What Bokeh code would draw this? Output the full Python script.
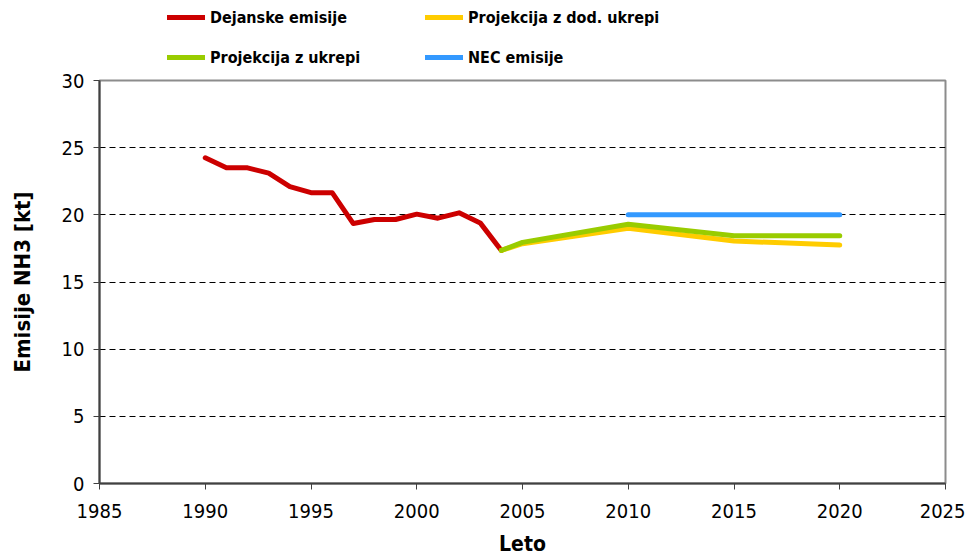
from bokeh.plotting import figure
from bokeh.models import Legend, LegendItem, FixedTicker, Range1d
from bokeh.layouts import column
from bokeh.embed import file_html
from bokeh.resources import INLINE

# Data
years_actual = [1990, 1991, 1992, 1993, 1994, 1995, 1996, 1997, 1998, 1999,
                2000, 2001, 2002, 2003, 2004]
actual = [24.25, 23.5, 23.5, 23.1, 22.1, 21.65, 21.65, 19.35, 19.65, 19.65,
          20.05, 19.75, 20.15, 19.4, 17.35]

years_proj = [2004, 2005, 2010, 2015, 2020]
proj_add = [17.35, 17.85, 19.0, 18.05, 17.75]     # Projekcija z dod. ukrepi
proj_wm = [17.35, 17.95, 19.3, 18.45, 18.45]      # Projekcija z ukrepi

years_nec = [2010, 2015, 2020]
nec = [20.0, 20.0, 20.0]

x_ticks = [1985, 1990, 1995, 2000, 2005, 2010, 2015, 2020, 2025]
y_ticks = [0, 5, 10, 15, 20, 25, 30]
grid_ticks = [5, 10, 15, 20, 25]

labels = ["Dejanske emisije", "Projekcija z dod. ukrepi",
          "Projekcija z ukrepi", "NEC emisije"]
colors = ["#CC0000", "#FFCC00", "#99CC00", "#3399FF"]

FONT = "DejaVu Sans Condensed"
NAN = float("nan")

# ---------------- main chart ----------------
p = figure(width=965, height=490, output_backend="svg", toolbar_location=None,
           x_range=Range1d(1985, 2025), y_range=Range1d(0, 30),
           min_border_left=99, min_border_right=20, min_border_top=12,
           min_border_bottom=75)

line_kw = dict(line_width=5, line_cap="round", line_join="round")
p.line(years_actual, actual, line_color=colors[0], **line_kw)
p.line(years_proj, proj_add, line_color=colors[1], **line_kw)
p.line(years_proj, proj_wm, line_color=colors[2], **line_kw)
p.line(years_nec, nec, line_color=colors[3], **line_kw)

for ax in (p.xaxis[0], p.yaxis[0]):
    ax.axis_line_color = "#404040"
    ax.axis_line_width = 2
    ax.major_tick_line_color = "#404040"
    ax.major_tick_line_width = 1
    ax.major_tick_out = 6
    ax.major_tick_in = 0
    ax.minor_tick_line_color = None
    ax.major_label_text_font = FONT
    ax.major_label_text_font_size = "20px"
    ax.major_label_text_color = "black"
    ax.axis_label_text_font = FONT
    ax.axis_label_text_font_style = "bold"
    ax.axis_label_text_color = "black"

p.xaxis.axis_label_text_font_size = "21px"
p.yaxis.axis_label_text_font_size = "22px"
p.xaxis.ticker = FixedTicker(ticks=x_ticks)
p.yaxis.ticker = FixedTicker(ticks=y_ticks)
p.xaxis.axis_label = "Leto"
p.yaxis.axis_label = "Emisije NH3 [kt]"
p.xaxis.major_label_standoff = 14
p.yaxis.major_label_standoff = 9
p.xaxis.axis_label_standoff = 11
p.yaxis.axis_label_standoff = 24

p.xgrid.grid_line_color = None
p.ygrid.ticker = FixedTicker(ticks=grid_ticks)
p.ygrid.grid_line_color = "black"
p.ygrid.grid_line_dash = "6 4"
p.ygrid.grid_line_width = 1

p.outline_line_color = "#8C8C8C"
p.outline_line_width = 2

# ---------------- legend strip ----------------
lf = figure(width=965, height=68, output_backend="svg", toolbar_location=None,
            x_range=Range1d(0, 1), y_range=Range1d(0, 1),
            x_axis_location=None, y_axis_location=None, min_border=0)
lf.outline_line_color = None
lf.grid.grid_line_color = None

# invisible proxies (NaN data) that only carry the legend styling
lr = [lf.line(x=[NAN, NAN], y=[NAN, NAN], line_color=c, line_width=5,
              line_cap="round")
      for c in colors]

legend = Legend(
    items=[LegendItem(label=labels[0], renderers=[lr[0]]),
           LegendItem(label=labels[2], renderers=[lr[2]]),
           LegendItem(label=labels[1], renderers=[lr[1]]),
           LegendItem(label=labels[3], renderers=[lr[3]])],
    location=(68, 1), orientation="vertical", ncols=2,
    padding=0, margin=0, spacing=20, glyph_width=38, glyph_height=20,
    label_height=20, label_width=195, label_standoff=5,
    label_text_font=FONT, label_text_font_size="16px",
    label_text_font_style="bold", label_text_color="black",
    border_line_alpha=0, background_fill_alpha=0)
lf.add_layout(legend, "center")

layout = column(lf, p, spacing=0)
open("out.html", "w").write(file_html(layout, INLINE))
